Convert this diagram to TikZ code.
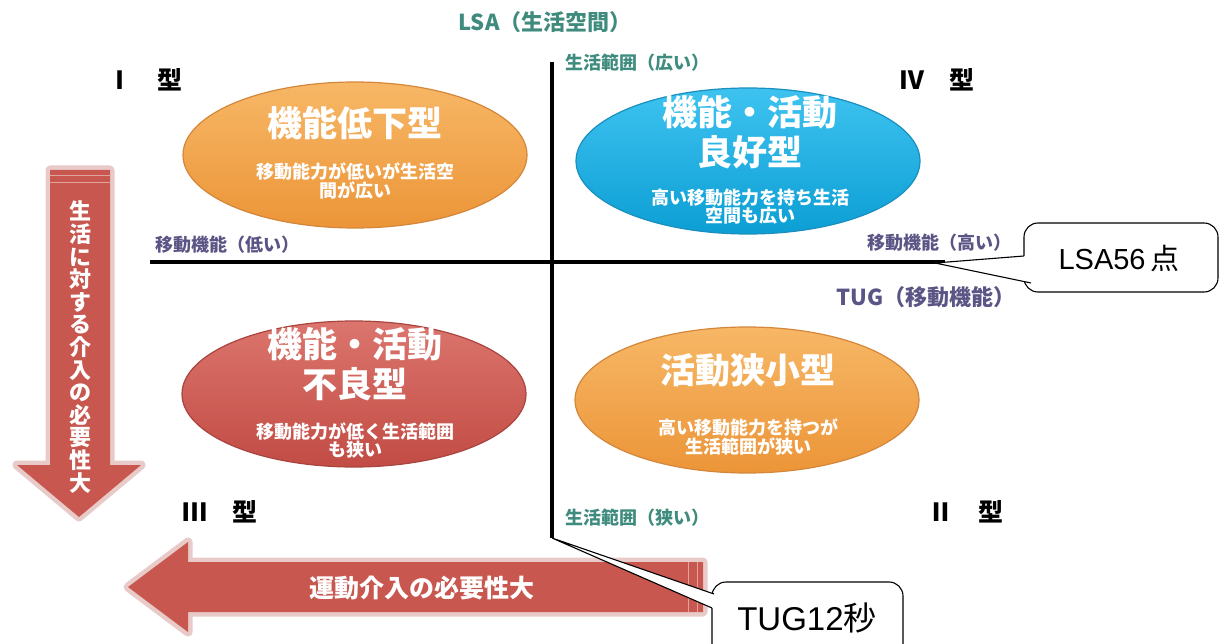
\documentclass[tikz,border=0pt]{standalone}
\usepackage{fontspec}
\setmainfont{Noto Sans CJK JP}
\newfontfamily\lat{Liberation Sans}
\newfontfamily\jp{Noto Sans CJK JP}
\usetikzlibrary{shapes.geometric,calc}
\definecolor{orangeTop}{HTML}{F7B766}
\definecolor{orangeBot}{HTML}{EC9538}
\definecolor{orangeEdge}{HTML}{D4873A}
\definecolor{blueTop}{HTML}{3EC3F0}
\definecolor{blueBot}{HTML}{0C9ED4}
\definecolor{blueEdge}{HTML}{1A8FBF}
\definecolor{redTop}{HTML}{DB756D}
\definecolor{redBot}{HTML}{C24C45}
\definecolor{redEdge}{HTML}{A9443F}
\definecolor{arrowRed}{HTML}{C8574F}
\definecolor{arrowGlow}{HTML}{D9A8A4}
\definecolor{tealText}{HTML}{3F8C7E}
\definecolor{purpText}{HTML}{5A5585}
\begin{document}
\begin{tikzpicture}[x=1pt,y=-1pt,
  ell/.style={ellipse, minimum width=344pt, minimum height=146pt, inner sep=0pt, line width=1.2pt},
  ttl/.style={text=white, font=\bfseries\fontsize{35}{37}\selectfont, inner sep=0pt},
  sub/.style={text=white, font=\bfseries\fontsize{18}{19}\selectfont, inner sep=0pt},
  axT/.style={text=tealText, font=\bfseries\fontsize{18}{20}\selectfont, inner sep=0pt},
  axP/.style={text=purpText, font=\bfseries\fontsize{18}{20}\selectfont, inner sep=0pt},
  typ/.style={text=black, font=\bfseries\fontsize{25}{27}\selectfont, inner sep=0pt},
  callbox/.style={draw=black, fill=white, line width=1.1pt, rounded corners=14pt, inner sep=0pt},
  ptr/.style={draw=black, line width=1.1pt},
  axis/.style={draw=black, line width=3.5pt}
]
\useasboundingbox (0,0) rectangle (1224,644);

% ---------- arrows (shapes) ----------
\draw[arrowGlow, line width=9pt, line join=round, opacity=.6]
  (50,170) -- (110,170) -- (110,465) -- (141,465) -- (79,517) -- (17,465) -- (50,465) -- cycle;
\fill[arrowRed] (50,170) -- (110,170) -- (110,465) -- (141,465) -- (79,517) -- (17,465) -- (50,465) -- cycle;
\draw[arrowRed!55!white, line width=1pt] (50,176) -- (110,176) (50,183) -- (110,183);
\draw[arrowGlow, line width=9pt, line join=round, opacity=.6]
  (703,562) -- (188,562) -- (188,542) -- (128,587) -- (188,632) -- (188,612) -- (703,612) -- cycle;
\fill[arrowRed] (703,562) -- (188,562) -- (188,542) -- (128,587) -- (188,632) -- (188,612) -- (703,612) -- cycle;
\draw[arrowRed!55!white, line width=1pt] (688,562) -- (688,612) (697,562) -- (697,612);

\node[text=white, font=\bfseries\fontsize{22}{22.6}\selectfont, align=center, inner sep=0pt]
  (vtext) at (80,347) {生\\活\\に\\対\\す\\る\\介\\入\\の\\必\\要\\性\\大};
\node[text=white, font=\bfseries\fontsize{25}{27}\selectfont, inner sep=0pt]
  (htext) at (422,588) {運動介入の必要性大};

% ---------- axes ----------
\coordinate (vtop) at (552,62);
\coordinate (vbot) at (552,538);
\coordinate (hleft) at (150,262);
\coordinate (hright) at (945,262);
\draw[axis] (vtop) -- (vbot);
\draw[axis] (hleft) -- (hright);

% ---------- ellipses ----------
\node[ell, draw=orangeEdge, top color=orangeTop, bottom color=orangeBot] (e1) at (355,155) {};
\node[ell, draw=blueEdge, top color=blueTop, bottom color=blueBot] (e2) at (748,161) {};
\node[ell, draw=redEdge, top color=redTop, bottom color=redBot] (e3) at (354,394) {};
\node[ell, draw=orangeEdge, top color=orangeTop, bottom color=orangeBot] (e4) at (747,400) {};

\node[ttl] (e1t) at (355,123) {機能低下型};
\node[sub] (e1s1) at (355,172) {移動能力が低いが生活空};
\node[sub] (e1s2) at (355,190) {間が広い};

\node[ttl] (e2t1) at (750,112) {機能・活動};
\node[ttl] (e2t2) at (750,152) {良好型};
\node[sub] (e2s1) at (750,198) {高い移動能力を持ち生活};
\node[sub] (e2s2) at (750,216) {空間も広い};

\node[ttl] (e3t1) at (355,344) {機能・活動};
\node[ttl] (e3t2) at (355,384) {不良型};
\node[sub] (e3s1) at (355,432) {移動能力が低く生活範囲};
\node[sub] (e3s2) at (355,450) {も狭い};

\node[ttl] (e4t) at (748,370) {活動狭小型};
\node[sub] (e4s1) at (748,428) {高い移動能力を持つが};
\node[sub] (e4s2) at (748,446) {生活範囲が狭い};

% ---------- axis labels ----------
\node[text=tealText, font=\bfseries\fontsize{22}{24}\selectfont, inner sep=0pt] (lsa) at (545,22) {LSA（生活空間）};
\node[axT, anchor=west] (wide) at (565,63) {生活範囲（広い）};
\node[axT, anchor=west] (narrow) at (565,518) {生活範囲（狭い）};
\node[axP, anchor=west] (low) at (155,245) {移動機能（低い）};
\node[axP, anchor=east] (high) at (1012,243) {移動機能（高い）};
\node[text=purpText, font=\bfseries\fontsize{22}{24}\selectfont, inner sep=0pt, anchor=east] (tug) at (1016,297) {TUG（移動機能）};

% ---------- type labels ----------
\node[typ] (t1) at (145,80) {Ⅰ　型};
\node[typ] (t4) at (937,80) {Ⅳ　型};
\node[typ] (t3) at (220,512) {Ⅲ　型};
\node[typ] (t2) at (966,512) {Ⅱ　型};

% ---------- callouts ----------
\node[callbox, minimum width=194pt, minimum height=69pt] (c1) at (1121,257.5) {};
\node[font=\lat\fontsize{29}{31}\selectfont, inner sep=0pt] (c1t) at (1119,258) {LSA56\,{\jp 点}};
\coordinate (c1tip) at (935,263);
\coordinate (c1a) at (1024,256);
\coordinate (c1b) at (1031,283);
\fill[white] (c1a) -- (c1tip) -- (c1b) -- ($(c1b)+(2,-3)$) -- ($(c1a)+(2,0)$) -- cycle;
\draw[ptr] (c1a) -- (c1tip) -- (c1b);

\node[callbox, minimum width=191pt, minimum height=100pt] (c2) at (807.5,632) {};
\node[font=\lat\fontsize{33}{35}\selectfont, inner sep=0pt] (c2t) at (807,618) {TUG12{\jp 秒}};
\coordinate (c2a) at (714,594);
\coordinate (c2b) at (712,608);
\fill[white] (vbot) -- (c2a) -- ($(c2a)+(3,0)$) -- ($(c2b)+(3,0)$) -- (c2b) -- cycle;
\draw[ptr] (c2a) -- (vbot) -- (c2b);
\end{tikzpicture}
\end{document}
